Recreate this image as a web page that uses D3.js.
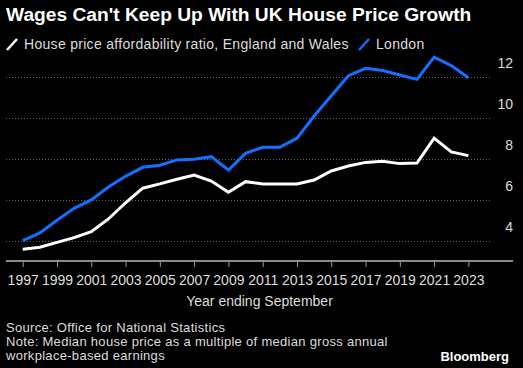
<!DOCTYPE html>
<html>
<head>
<meta charset="utf-8">
<script src="https://cdn.jsdelivr.net/npm/d3@7"></script>
<style>
body { margin:0; background:#000; }
svg { display:block; background:#000; }
text { font-family: "Liberation Sans", Arial, sans-serif; }
</style>
</head>
<body>
<svg id="chart" width="523" height="368"></svg>
<script>
// data
var years = [1997,1998,1999,2000,2001,2002,2003,2004,2005,2006,2007,2008,2009,2010,
	2011,2012,2013,2014,2015,2016,2017,2018,2019,2020,2021,2022,2023];
var englandWales = [3.58,3.68,3.92,4.15,4.44,5.06,5.85,6.56,6.77,7.0,7.2,6.91,6.36,6.88,
	6.77,6.77,6.77,6.96,7.4,7.64,7.82,7.88,7.76,7.79,9.0,8.33,8.15];
var london = [4.0,4.38,5.0,5.58,5.99,6.62,7.14,7.58,7.68,7.94,7.97,8.1,7.45,8.26,
	8.56,8.56,9.0,10.08,11.07,12.05,12.41,12.3,12.08,11.87,12.95,12.54,11.95];
var yTicks = [4,6,8,10,12];
var xTicks = [1997,1999,2001,2003,2005,2007,2009,2011,2013,2015,2017,2019,2021,2023];

var svg = d3.select("#chart");

var x = d3.scaleLinear().domain([1997,2023]).range([22.7,468.4]);
var y = d3.scaleLinear().domain([4,12]).range([240.7,76.7]);

// title
svg.append("text").attr("x",6).attr("y",20.5)
	.attr("fill","#fff").attr("font-weight","bold").attr("font-size",19.2)
	.text("Wages Can't Keep Up With UK House Price Growth");

// legend
var legend = [{name:"House price affordability ratio, England and Wales",color:"#fff",x:6},
	{name:"London",color:"#1170ff",x:358}];
legend.forEach(function(l) {
	svg.append("line").attr("x1",l.x+1).attr("y1",50).attr("x2",l.x+11).attr("y2",39)
		.attr("stroke",l.color).attr("stroke-width",2.5);
	svg.append("text").attr("x",l.x+18).attr("y",49)
		.attr("fill","#ddd").attr("font-size",14).attr("letter-spacing",0.3).text(l.name);
	});

// gridlines
svg.append("g").selectAll("line").data(yTicks).enter().append("line")
	.attr("x1",6).attr("x2",491)
	.attr("y1",function(d){ return Math.round(y(d))+0.5; })
	.attr("y2",function(d){ return Math.round(y(d))+0.5; })
	.attr("stroke","#666").attr("stroke-dasharray","1,2");

svg.append("g").selectAll("text").data(yTicks).enter().append("text")
	.attr("x",513).attr("y",function(d){ return y(d)-8.5; })
	.attr("text-anchor","end").attr("fill","#ddd").attr("font-size",14)
	.text(function(d){ return d; });

// x axis
var xAxis = d3.axisBottom(x).tickValues(xTicks).tickSize(6).tickSizeOuter(0).tickFormat(d3.format("d"));
var gx = svg.append("g").attr("transform","translate(0,261)").call(xAxis);
gx.select(".domain").remove();
gx.selectAll(".tick line").attr("stroke","#999");
gx.selectAll(".tick text").attr("fill","#ddd").attr("font-size",14)
	.attr("font-family","Liberation Sans, Arial, sans-serif").attr("dy",0).attr("y",24);
svg.append("line").attr("x1",6).attr("x2",513).attr("y1",261).attr("y2",261)
	.attr("stroke","#8a8a8a").attr("stroke-width",2);

svg.append("text").attr("x",259.5).attr("y",306).attr("text-anchor","middle")
	.attr("fill","#ddd").attr("font-size",14).text("Year ending September");

// lines
var line = d3.line().x(function(d,i){ return x(years[i]); }).y(function(d){ return y(d); });
svg.append("path").datum(englandWales).attr("d",line)
	.attr("fill","none").attr("stroke","#fff").attr("stroke-width",3);
svg.append("path").datum(london).attr("d",line)
	.attr("fill","none").attr("stroke","#1170ff").attr("stroke-width",3);

// footer
var notes = ["Source: Office for National Statistics",
	"Note: Median house price as a multiple of median gross annual",
	"workplace-based earnings"];
svg.append("g").selectAll("text").data(notes).enter().append("text")
	.attr("x",6).attr("y",function(d,i){ return 332+i*14.2; })
	.attr("fill","#ddd").attr("font-size",13).attr("letter-spacing",0.3)
	.text(function(d){ return d; });

svg.append("text").attr("x",509).attr("y",361).attr("text-anchor","end")
	.attr("fill","#fff").attr("font-weight","bold").attr("font-size",13).text("Bloomberg");
</script>
</body>
</html>
